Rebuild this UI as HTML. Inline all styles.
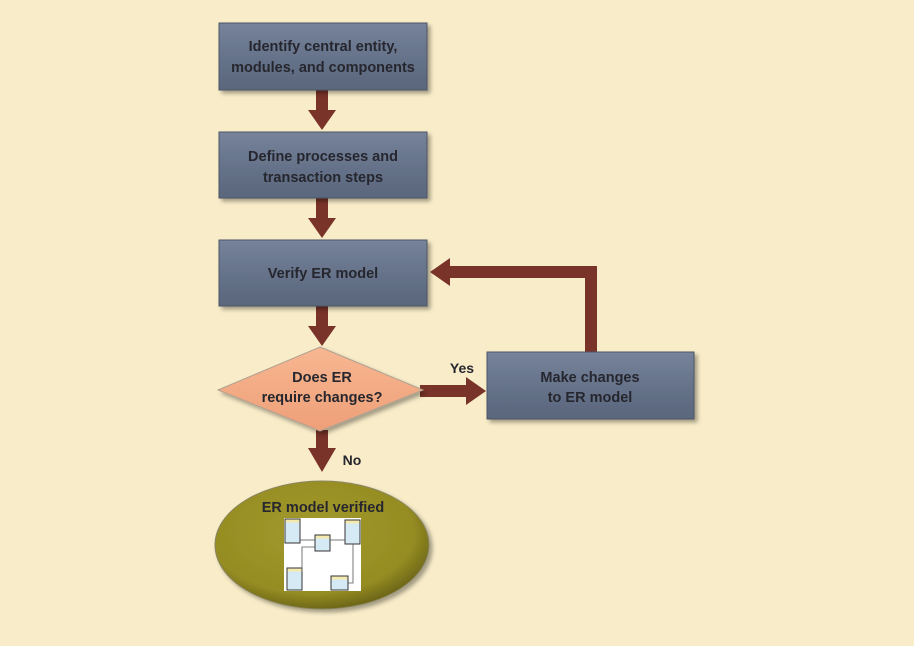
<!DOCTYPE html>
<html><head><style>
body{margin:0;width:914px;height:641px;background:#f9edc9;overflow:hidden;font-family:"Liberation Sans",sans-serif}
</style></head><body>
<svg width="914" height="641" xmlns="http://www.w3.org/2000/svg">
<defs>
<linearGradient id="bx" x1="0" y1="0" x2="0" y2="1"><stop offset="0" stop-color="#76839a"/><stop offset="0.5" stop-color="#66738a"/><stop offset="1" stop-color="#5a667c"/></linearGradient>
<radialGradient id="el" cx="0.45" cy="0.4" r="0.6"><stop offset="0" stop-color="#a39a2e"/><stop offset="0.8" stop-color="#958c22"/><stop offset="1" stop-color="#6f6818"/></radialGradient>
<linearGradient id="dm" x1="0" y1="0" x2="0" y2="1"><stop offset="0" stop-color="#f7b791"/><stop offset="1" stop-color="#ee9f78"/></linearGradient>
<filter id="sh"><feDropShadow dx="3" dy="3" stdDeviation="2" flood-color="#000" flood-opacity="0.35"/></filter>
</defs>
<g fill="#7a3328">
<rect x="316" y="90" width="12" height="22"/><polygon points="308,110 336,110 322,130"/>
<rect x="316" y="198" width="12" height="22"/><polygon points="308,218 336,218 322,238"/>
<rect x="316" y="306" width="12" height="22"/><polygon points="308,326 336,326 322,346"/>
<rect x="316" y="430" width="12" height="22"/><polygon points="308,448 336,448 322,472"/>
<rect x="420" y="385" width="48" height="12"/><polygon points="466,377 466,405 486,391"/>
<rect x="585" y="266" width="12" height="86"/><rect x="448" y="266" width="149" height="12"/><polygon points="450,258 450,286 430,272"/>
</g>
<g filter="url(#sh)">
<rect x="219" y="23" width="208" height="67" fill="url(#bx)" stroke="#4d5668"/>
<rect x="219" y="132" width="208" height="66" fill="url(#bx)" stroke="#4d5668"/>
<rect x="219" y="240" width="208" height="66" fill="url(#bx)" stroke="#4d5668"/>
<rect x="487" y="352" width="207" height="67" fill="url(#bx)" stroke="#4d5668"/>
<polygon points="320,347 423,390 320,431 218,390" fill="url(#dm)" stroke="#b0a090"/>
<ellipse cx="322" cy="545" rx="107" ry="64" fill="url(#el)" stroke="#8a8560"/>
</g>
<g font-weight="bold" font-size="14.5" fill="#26262e" text-anchor="middle">
<text x="323" y="51">Identify central entity,</text>
<text x="323" y="72">modules, and components</text>
<text x="323" y="161">Define processes and</text>
<text x="323" y="182">transaction steps</text>
<text x="323" y="278">Verify ER model</text>
<text x="590" y="382">Make changes</text>
<text x="590" y="402">to ER model</text>
<text x="322" y="382">Does ER</text>
<text x="322" y="402">require changes?</text>
<text x="323" y="512">ER model verified</text>
<text x="462" y="373" font-size="14">Yes</text>
<text x="352" y="465" font-size="14">No</text>
</g>
<rect x="284" y="518" width="77" height="73" fill="#fff"/>
<g stroke="#333" stroke-width="1" fill="#d6eaf6">
<rect x="285" y="519" width="15" height="24"/><rect x="345" y="520" width="15" height="24"/>
<rect x="315" y="535" width="15" height="16"/><rect x="287" y="568" width="15" height="22"/>
<rect x="331" y="576" width="17" height="14"/>
</g>
<g fill="#f4eab0"><rect x="285.5" y="519.5" width="14" height="3"/><rect x="345.5" y="520.5" width="14" height="3"/><rect x="315.5" y="535.5" width="14" height="3"/><rect x="287.5" y="568.5" width="14" height="3"/><rect x="331.5" y="576.5" width="16" height="3"/></g>
<g stroke="#555" fill="none" stroke-width="0.8"><path d="M300,540 H315"/><path d="M345,540 H330"/><path d="M302,572 V547 H315"/><path d="M348,583 H353 V544"/></g>
</svg>
</body></html>
